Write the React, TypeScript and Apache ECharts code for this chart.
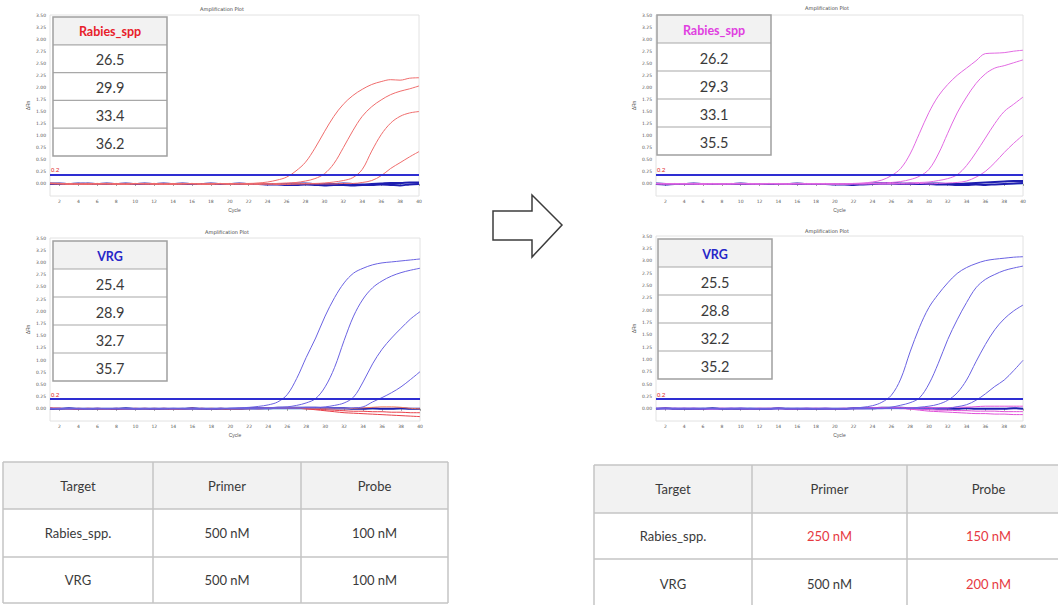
import { useEffect, useRef } from "react";
import * as echarts from "echarts";

// ---- data ----
const cycles = [
  "1", "2", "3", "4", "5", "6", "7", "8", "9", "10",
  "11", "12", "13", "14", "15", "16", "17", "18", "19", "20",
  "21", "22", "23", "24", "25", "26", "27", "28", "29", "30",
  "31", "32", "33", "34", "35", "36", "37", "38", "39", "40",
];

const threshold = 0.2;

// Rabies_spp channel, original concentrations
const tlRabies1 = [0.02, 0.01, 0.0, -0.01, 0.0, 0.01, 0.0, -0.01, 0.0, 0.01, 0.0, 0.01, 0.0, -0.01, 0.0, 0.01, 0.0, 0.0, 0.01, 0.0, 0.01, 0.01, 0.02, 0.04, 0.08, 0.14, 0.27, 0.45, 0.74, 1.08, 1.4, 1.65, 1.83, 1.96, 2.06, 2.12, 2.16, 2.15, 2.19, 2.2];
const tlRabies2 = [0.01, 0.0, 0.01, 0.0, -0.01, 0.0, 0.01, 0.0, 0.0, 0.01, 0.0, -0.01, 0.0, 0.01, 0.0, 0.0, -0.01, 0.0, 0.01, 0.0, 0.0, 0.0, 0.01, 0.0, 0.01, 0.02, 0.03, 0.06, 0.11, 0.21, 0.42, 0.75, 1.1, 1.4, 1.6, 1.74, 1.85, 1.92, 1.97, 2.03];
const tlRabies3 = [0.0, 0.01, 0.0, 0.0, 0.01, -0.01, 0.0, 0.01, 0.0, 0.0, 0.01, 0.0, -0.01, 0.0, 0.0, 0.01, 0.0, -0.01, 0.0, 0.01, 0.0, -0.01, 0.0, 0.0, -0.01, 0.0, 0.0, 0.01, 0.01, 0.02, 0.04, 0.07, 0.13, 0.3, 0.68, 1.02, 1.26, 1.4, 1.47, 1.5];
const tlRabies4 = [0.01, 0.0, -0.01, 0.0, 0.0, 0.01, 0.0, 0.0, -0.01, 0.0, 0.0, 0.01, 0.0, 0.0, 0.01, 0.0, 0.0, 0.01, 0.0, -0.01, 0.0, 0.0, -0.01, 0.0, 0.0, -0.01, 0.0, 0.0, 0.0, 0.0, 0.0, 0.01, 0.01, 0.03, 0.07, 0.17, 0.32, 0.44, 0.56, 0.67];
const tlFlat1 = [0.0, 0.01, 0.0, 0.0, 0.01, 0.0, 0.0, 0.0, 0.01, 0.0, 0.0, 0.0, 0.01, 0.0, 0.0, 0.0, 0.0, 0.01, 0.0, 0.0, 0.0, 0.0, 0.0, -0.01, -0.01, -0.02, -0.02, -0.01, -0.02, -0.03, -0.02, -0.02, -0.03, -0.02, -0.02, -0.01, -0.02, -0.03, -0.01, 0.0];
const tlFlat2 = [0.01, 0.0, 0.0, 0.01, 0.0, 0.0, 0.01, 0.0, 0.0, 0.0, 0.01, 0.0, 0.0, 0.0, 0.01, 0.0, 0.0, 0.0, 0.0, 0.0, 0.01, 0.0, 0.0, 0.0, 0.0, 0.0, 0.01, 0.01, 0.0, 0.0, 0.0, 0.01, 0.0, -0.01, 0.0, 0.01, 0.02, 0.02, 0.03, 0.03];

// VRG channel, original concentrations
const blVrg1 = [0.01, 0.0, 0.0, 0.01, 0.0, 0.0, 0.0, 0.01, 0.0, 0.0, 0.0, 0.01, 0.0, 0.0, 0.0, 0.0, 0.01, 0.0, 0.0, 0.01, 0.02, 0.03, 0.05, 0.08, 0.14, 0.29, 0.62, 1.05, 1.45, 1.9, 2.28, 2.58, 2.78, 2.88, 2.95, 2.99, 3.01, 3.03, 3.05, 3.07];
const blVrg2 = [0.0, 0.01, 0.0, 0.0, 0.0, 0.01, 0.0, 0.0, 0.0, 0.0, 0.01, 0.0, 0.0, 0.0, 0.01, 0.0, 0.0, 0.0, 0.01, 0.0, 0.01, 0.01, 0.02, 0.02, 0.03, 0.04, 0.07, 0.12, 0.21, 0.45, 0.85, 1.4, 1.9, 2.25, 2.48, 2.62, 2.72, 2.79, 2.84, 2.88];
const blVrg3 = [0.0, 0.0, 0.01, 0.0, 0.0, 0.0, 0.0, 0.01, 0.0, 0.0, 0.0, 0.0, 0.0, 0.01, 0.0, 0.0, 0.0, 0.0, 0.0, 0.01, 0.01, 0.01, 0.01, 0.01, 0.02, 0.02, 0.02, 0.03, 0.03, 0.04, 0.07, 0.12, 0.24, 0.55, 0.92, 1.22, 1.45, 1.65, 1.84, 1.99];
const blVrg4 = [0.01, 0.0, 0.0, 0.0, 0.0, 0.01, 0.0, 0.0, 0.0, 0.0, 0.0, 0.0, 0.01, 0.0, 0.0, 0.0, 0.0, 0.0, 0.01, 0.0, 0.0, 0.0, 0.0, 0.01, 0.01, 0.01, 0.01, 0.02, 0.02, 0.02, 0.01, 0.01, 0.02, 0.04, 0.14, 0.23, 0.33, 0.45, 0.6, 0.76];
const blFlat1 = [0.02, 0.01, 0.0, -0.01, 0.0, 0.01, 0.0, 0.0, -0.01, 0.0, 0.01, 0.0, 0.0, -0.01, 0.0, 0.01, 0.0, 0.0, 0.01, 0.0, 0.0, 0.01, 0.01, 0.02, 0.02, 0.02, 0.01, 0.0, -0.02, -0.04, -0.06, -0.08, -0.09, -0.1, -0.11, -0.12, -0.13, -0.14, -0.15, -0.16];
const blFlat2 = [0.0, 0.01, 0.0, 0.0, 0.01, 0.0, -0.01, 0.0, 0.0, 0.01, 0.0, 0.0, 0.01, 0.0, 0.0, 0.0, 0.01, 0.0, 0.0, 0.0, 0.01, 0.01, 0.0, 0.01, 0.02, 0.01, 0.01, 0.0, -0.01, -0.02, -0.03, -0.04, -0.05, -0.05, -0.06, -0.06, -0.07, -0.07, -0.08, -0.08];
const blFlat3 = [0.01, 0.0, 0.0, 0.01, 0.0, 0.0, 0.0, 0.01, 0.0, 0.0, 0.0, 0.01, 0.0, 0.0, 0.0, 0.0, 0.0, 0.01, 0.0, 0.0, 0.0, 0.0, 0.01, 0.01, 0.02, 0.02, 0.02, 0.02, 0.01, 0.01, 0.0, 0.0, 0.01, 0.02, 0.03, 0.04, 0.04, 0.03, 0.01, 0.0];
const blFlat4 = [0.0, 0.0, 0.01, 0.0, 0.0, 0.0, 0.0, 0.0, 0.01, 0.0, 0.0, 0.0, 0.0, 0.0, 0.0, 0.01, 0.0, 0.0, 0.0, 0.0, 0.0, 0.01, 0.01, 0.01, 0.02, 0.02, 0.02, 0.02, 0.02, 0.01, 0.01, 0.01, 0.0, 0.0, 0.01, 0.0, 0.0, 0.01, 0.0, 0.0];

// Rabies_spp channel, adjusted concentrations
const trRabies1 = [0.01, 0.0, 0.0, 0.01, 0.0, -0.01, 0.0, 0.0, 0.01, 0.0, 0.0, 0.0, 0.01, 0.0, 0.0, 0.01, 0.0, 0.0, 0.0, 0.0, 0.0, 0.01, 0.02, 0.04, 0.08, 0.17, 0.32, 0.62, 1.05, 1.48, 1.82, 2.06, 2.25, 2.4, 2.55, 2.7, 2.71, 2.72, 2.75, 2.77];
const trRabies2 = [0.0, 0.01, 0.0, 0.0, 0.0, 0.01, 0.0, 0.0, 0.0, 0.01, 0.0, 0.0, 0.0, 0.01, 0.0, 0.0, 0.01, 0.0, 0.0, 0.0, 0.0, 0.0, 0.01, 0.01, 0.02, 0.03, 0.05, 0.09, 0.16, 0.3, 0.62, 1.05, 1.47, 1.8, 2.08, 2.28, 2.4, 2.45, 2.51, 2.57];
const trRabies3 = [0.0, 0.0, 0.01, 0.0, 0.0, 0.0, 0.01, 0.0, 0.0, 0.0, 0.01, 0.0, 0.0, 0.0, 0.0, 0.01, 0.0, 0.0, 0.01, 0.0, 0.0, 0.0, 0.0, 0.01, 0.0, 0.01, 0.01, 0.02, 0.03, 0.04, 0.07, 0.11, 0.19, 0.38, 0.65, 0.95, 1.25, 1.5, 1.65, 1.8];
const trRabies4 = [0.01, 0.0, 0.0, 0.0, 0.01, 0.0, 0.0, 0.0, 0.0, 0.01, 0.0, 0.0, 0.01, 0.0, 0.0, 0.0, 0.0, 0.01, 0.0, 0.0, 0.0, 0.01, 0.0, 0.0, 0.0, 0.0, 0.0, 0.0, 0.01, 0.0, 0.01, 0.02, 0.03, 0.06, 0.14, 0.26, 0.44, 0.65, 0.84, 1.01];
const trFlat1 = [0.0, -0.01, 0.0, 0.0, 0.0, 0.0, 0.0, 0.0, 0.0, 0.0, 0.0, 0.0, 0.0, 0.0, 0.0, 0.0, 0.0, 0.0, 0.0, -0.01, -0.01, -0.02, -0.01, 0.0, 0.01, 0.01, 0.0, 0.01, 0.0, 0.0, -0.01, -0.01, -0.02, -0.02, -0.01, -0.02, -0.01, 0.0, 0.01, 0.02];
const trFlat2 = [0.01, 0.0, 0.0, 0.0, 0.01, 0.0, 0.0, 0.0, 0.0, 0.01, 0.0, 0.0, 0.0, 0.0, 0.0, 0.01, 0.0, 0.0, 0.0, 0.0, 0.0, 0.0, 0.0, 0.01, 0.01, 0.02, 0.01, 0.0, 0.0, 0.01, 0.01, 0.0, 0.0, 0.01, 0.02, 0.03, 0.04, 0.05, 0.06, 0.06];

// VRG channel, adjusted concentrations
const brVrg1 = [0.0, 0.01, 0.0, 0.0, 0.0, 0.01, 0.0, 0.0, 0.0, 0.0, 0.01, 0.0, 0.0, 0.0, 0.0, 0.01, 0.0, 0.0, 0.0, 0.0, 0.0, 0.01, 0.03, 0.06, 0.13, 0.27, 0.6, 1.15, 1.65, 2.05, 2.32, 2.55, 2.74, 2.86, 2.94, 3.0, 3.03, 3.05, 3.07, 3.08];
const brVrg2 = [0.01, 0.0, 0.0, 0.0, 0.01, 0.0, 0.0, 0.0, 0.0, 0.01, 0.0, 0.0, 0.0, 0.01, 0.0, 0.0, 0.0, 0.0, 0.01, 0.0, 0.0, 0.0, 0.01, 0.01, 0.01, 0.03, 0.07, 0.12, 0.22, 0.5, 0.92, 1.4, 1.8, 2.15, 2.45, 2.62, 2.72, 2.8, 2.85, 2.89];
const brVrg3 = [0.0, 0.0, 0.0, 0.01, 0.0, 0.0, 0.0, 0.0, 0.01, 0.0, 0.0, 0.0, 0.0, 0.0, 0.01, 0.0, 0.0, 0.0, 0.0, 0.0, 0.0, 0.0, 0.0, 0.0, 0.0, 0.01, 0.01, 0.01, 0.03, 0.05, 0.09, 0.17, 0.32, 0.58, 0.95, 1.3, 1.6, 1.82, 1.98, 2.1];
const brVrg4 = [0.0, 0.0, 0.01, 0.0, 0.0, 0.0, 0.0, 0.0, 0.0, 0.01, 0.0, 0.0, 0.0, 0.0, 0.0, 0.0, 0.01, 0.0, 0.0, 0.0, 0.0, 0.0, 0.0, 0.0, 0.0, 0.0, 0.0, 0.01, 0.0, 0.0, 0.01, 0.01, 0.04, 0.08, 0.17, 0.3, 0.45, 0.58, 0.77, 0.98];
const brFlat1 = [0.01, 0.0, 0.0, 0.01, 0.0, 0.0, -0.01, 0.0, 0.0, 0.01, 0.0, 0.0, 0.0, 0.01, 0.0, 0.0, 0.0, 0.01, 0.0, 0.0, 0.0, 0.01, 0.01, 0.02, 0.01, 0.01, 0.0, -0.01, -0.03, -0.05, -0.06, -0.07, -0.08, -0.09, -0.1, -0.1, -0.11, -0.11, -0.12, -0.12];
const brFlat2 = [0.0, 0.01, 0.0, 0.0, 0.01, 0.0, 0.0, 0.0, 0.01, 0.0, 0.0, 0.01, 0.0, 0.0, 0.0, 0.0, 0.01, 0.0, 0.0, 0.0, 0.01, 0.0, 0.0, 0.01, 0.01, 0.02, 0.01, 0.0, -0.01, -0.02, -0.03, -0.03, -0.04, -0.04, -0.05, -0.05, -0.05, -0.06, -0.06, -0.06];
const brFlat3 = [0.0, 0.0, 0.01, 0.0, 0.0, 0.0, 0.0, 0.01, 0.0, 0.0, 0.0, 0.0, 0.01, 0.0, 0.0, 0.0, 0.0, 0.0, 0.01, 0.0, 0.0, 0.0, 0.01, 0.01, 0.02, 0.02, 0.02, 0.02, 0.02, 0.02, 0.02, 0.02, 0.03, 0.03, 0.04, 0.05, 0.05, 0.05, 0.05, 0.05];
const brFlat4 = [0.0, 0.01, 0.0, 0.0, 0.0, 0.0, 0.01, 0.0, 0.0, 0.0, 0.0, 0.0, 0.0, 0.01, 0.0, 0.0, 0.0, 0.0, 0.0, 0.0, 0.0, 0.01, 0.01, 0.01, 0.02, 0.02, 0.02, 0.01, 0.01, 0.01, 0.0, 0.0, 0.0, 0.01, 0.0, 0.0, 0.0, 0.0, 0.01, 0.0];

// Ct values shown in the inset boxes
const rabiesCtBefore = ["26.5", "29.9", "33.4", "36.2"];
const vrgCtBefore = ["25.4", "28.9", "32.7", "35.7"];
const rabiesCtAfter = ["26.2", "29.3", "33.1", "35.5"];
const vrgCtAfter = ["25.5", "28.8", "32.2", "35.2"];

// Primer / probe concentration tables
const tableHeader = ["Target", "Primer", "Probe"];
const targets = ["Rabies_spp.", "VRG"];
const primerBefore = ["500 nM", "500 nM"];
const probeBefore = ["100 nM", "100 nM"];
const primerAfter = ["250 nM", "500 nM"];
const probeAfter = ["150 nM", "200 nM"];

// ---- styling ----
const RED = "#ef6d6d";
const MAGENTA = "#e26ae2";
const VIOLET = "#6a62e2";
const NAVY = "#1e1eb0";
const THRESH = "#2e2ed2";
const BASE_RED = "#e8404a";
const BASE_MAGENTA = "#e050d8";
const TEXT = "#3a3a3a";
const CHANGED = "#e6393f";
const FONT = "Lato, 'Open Sans', sans-serif";

type Line = { data: number[]; color: string; width: number };
type Panel = {
  grid: { left: number; top: number; width: number; height: number };
  title: [number, number];
  lines: Line[];
  box: { x: number; y: number; w: number; rowH: number; label: string; color: string; values: string[] };
};

const panels: Panel[] = [
  {
    grid: { left: 50, top: 15, width: 369, height: 181 },
    title: [222, 9],
    lines: [
      { data: tlFlat1, color: NAVY, width: 2 },
      { data: tlFlat2, color: NAVY, width: 2 },
      { data: tlRabies1, color: RED, width: 1 },
      { data: tlRabies2, color: RED, width: 1 },
      { data: tlRabies3, color: RED, width: 1 },
      { data: tlRabies4, color: RED, width: 1 },
    ],
    box: { x: 53, y: 17, w: 114, rowH: 27.8, label: "Rabies_spp", color: "#e8202a", values: rabiesCtBefore },
  },
  {
    grid: { left: 50, top: 238, width: 370, height: 183 },
    title: [227, 232],
    lines: [
      { data: blFlat4, color: NAVY, width: 2 },
      { data: blFlat1, color: BASE_RED, width: 1 },
      { data: blFlat2, color: BASE_RED, width: 1 },
      { data: blFlat3, color: "#f07a5a", width: 1 },
      { data: blVrg1, color: VIOLET, width: 1 },
      { data: blVrg2, color: VIOLET, width: 1 },
      { data: blVrg3, color: VIOLET, width: 1 },
      { data: blVrg4, color: VIOLET, width: 1 },
    ],
    box: { x: 53, y: 241, w: 114, rowH: 28, label: "VRG", color: "#2626c8", values: vrgCtBefore },
  },
  {
    grid: { left: 656, top: 15, width: 367, height: 181 },
    title: [827, 8],
    lines: [
      { data: trFlat1, color: NAVY, width: 2 },
      { data: trFlat2, color: NAVY, width: 2 },
      { data: trRabies1, color: MAGENTA, width: 1 },
      { data: trRabies2, color: MAGENTA, width: 1 },
      { data: trRabies3, color: MAGENTA, width: 1 },
      { data: trRabies4, color: MAGENTA, width: 1 },
    ],
    box: { x: 657, y: 15, w: 114, rowH: 28, label: "Rabies_spp", color: "#e040e0", values: rabiesCtAfter },
  },
  {
    grid: { left: 656, top: 236, width: 367, height: 185 },
    title: [827, 231],
    lines: [
      { data: brFlat4, color: NAVY, width: 2 },
      { data: brFlat1, color: BASE_MAGENTA, width: 1 },
      { data: brFlat2, color: BASE_MAGENTA, width: 1 },
      { data: brFlat3, color: BASE_MAGENTA, width: 1 },
      { data: brVrg1, color: VIOLET, width: 1 },
      { data: brVrg2, color: VIOLET, width: 1 },
      { data: brVrg3, color: VIOLET, width: 1 },
      { data: brVrg4, color: VIOLET, width: 1 },
    ],
    box: { x: 658, y: 239, w: 114, rowH: 28, label: "VRG", color: "#2626c8", values: vrgCtAfter },
  },
];

const evenCycle = (_i: number, v: string) => Number(v) % 2 === 0;

function insetBox(b: Panel["box"]): any[] {
  const els: any[] = [];
  const h = b.rowH * 5;
  els.push({ type: "rect", z: 100, shape: { x: b.x, y: b.y, width: b.w, height: h }, style: { fill: "#ffffff", stroke: "none" } });
  els.push({ type: "rect", z: 101, shape: { x: b.x, y: b.y, width: b.w, height: b.rowH }, style: { fill: "#f2f2f2", stroke: "none" } });
  for (let r = 1; r < 5; r++) {
    els.push({ type: "line", z: 102, shape: { x1: b.x, y1: b.y + r * b.rowH, x2: b.x + b.w, y2: b.y + r * b.rowH }, style: { stroke: "#a8a8a8", lineWidth: 1.2 } });
  }
  els.push({ type: "rect", z: 103, shape: { x: b.x, y: b.y, width: b.w, height: h }, style: { fill: "none", stroke: "#a0a0a0", lineWidth: 1.5 } });
  els.push({
    type: "text", z: 104,
    style: { text: b.label, x: b.x + b.w / 2, y: b.y + b.rowH / 2 + 1, fill: b.color, fontFamily: FONT, fontSize: 12.5, fontWeight: "bold", textAlign: "center", textVerticalAlign: "middle" },
  });
  b.values.forEach((v, i) => {
    els.push({
      type: "text", z: 104,
      style: { text: v, x: b.x + b.w / 2, y: b.y + (i + 1.5) * b.rowH + 1, fill: TEXT, fontFamily: FONT, fontSize: 14.5, textAlign: "center", textVerticalAlign: "middle" },
    });
  });
  return els;
}

function concTable(colX: number[], rowY: number[], primer: string[], probe: string[], refPrimer: string[], refProbe: string[]): any[] {
  const els: any[] = [];
  const x0 = colX[0];
  const x1 = colX[colX.length - 1];
  els.push({ type: "rect", z: 10, shape: { x: x0, y: rowY[0], width: x1 - x0, height: rowY[1] - rowY[0] }, style: { fill: "#f2f2f2", stroke: "none" } });
  rowY.forEach((y) => {
    els.push({ type: "line", z: 11, shape: { x1: x0, y1: y, x2: x1, y2: y }, style: { stroke: "#c4c4c4", lineWidth: 1.5 } });
  });
  colX.forEach((x) => {
    els.push({ type: "line", z: 11, shape: { x1: x, y1: rowY[0], x2: x, y2: rowY[rowY.length - 1] }, style: { stroke: "#c4c4c4", lineWidth: 1.5 } });
  });
  const cx = (c: number) => (colX[c] + colX[c + 1]) / 2;
  const cy = (r: number) => (rowY[r] + rowY[r + 1]) / 2;
  const cell = (text: string, c: number, r: number, color: string) => ({
    type: "text", z: 12,
    style: { text, x: cx(c), y: cy(r), fill: color, fontFamily: FONT, fontSize: 13, textAlign: "center", textVerticalAlign: "middle" },
  });
  tableHeader.forEach((h, c) => els.push(cell(h, c, 0, TEXT)));
  targets.forEach((t, r) => {
    els.push(cell(t, 0, r + 1, TEXT));
    els.push(cell(primer[r], 1, r + 1, primer[r] === refPrimer[r] ? TEXT : CHANGED));
    els.push(cell(probe[r], 2, r + 1, probe[r] === refProbe[r] ? TEXT : CHANGED));
  });
  return els;
}

export default function App() {
  const ref = useRef<HTMLDivElement>(null);

  useEffect(() => {
    if (!ref.current) return;
    const chart = echarts.init(ref.current, undefined, { renderer: "svg" });

    const axisText = { fontSize: 4.5, color: "#555", fontFamily: "'DejaVu Sans', sans-serif" };

    const grid = panels.map((p) => ({
      ...p.grid,
      show: true,
      borderColor: "#e2e2e2",
      borderWidth: 1,
      backgroundColor: "#ffffff",
    }));

    const xAxis = panels.map((_p, i) => ({
      type: "category",
      gridIndex: i,
      data: cycles,
      boundaryGap: false,
      name: "Cycle",
      nameLocation: "middle",
      nameGap: 11,
      nameTextStyle: { fontSize: 5, color: "#555" },
      axisLine: { lineStyle: { color: "#c2d8ee", width: 1 } },
      axisTick: { interval: evenCycle, length: 2, lineStyle: { color: "#999" } },
      axisLabel: { ...axisText, interval: evenCycle, margin: 3 },
      splitLine: { show: false },
    }));

    const yAxis = panels.map((_p, i) => ({
      type: "value",
      gridIndex: i,
      min: -0.25,
      max: 3.5,
      interval: 0.25,
      name: "ΔRn",
      nameLocation: "middle",
      nameGap: 20,
      nameRotate: 90,
      nameTextStyle: { fontSize: 5, color: "#555" },
      axisLine: { show: false },
      axisTick: { show: false },
      axisLabel: { ...axisText, margin: 4, formatter: (v: number) => (v < 0 ? "" : v.toFixed(2)) },
      splitLine: { show: false },
    }));

    const series: any[] = [];
    panels.forEach((p, i) => {
      p.lines.forEach((l, k) => {
        series.push({
          type: "line",
          xAxisIndex: i,
          yAxisIndex: i,
          data: l.data,
          symbol: "none",
          smooth: 0.35,
          silent: true,
          lineStyle: { color: l.color, width: l.width },
          z: l.width > 1 ? 2 : 3,
          markLine:
            k === 0
              ? {
                  symbol: "none",
                  silent: true,
                  data: [{ yAxis: threshold }],
                  lineStyle: { color: THRESH, width: 2, type: "solid" },
                  label: {
                    show: true,
                    position: "insideStartTop",
                    formatter: String(threshold),
                    color: "#e02020",
                    fontSize: 6,
                    distance: 1,
                  },
                }
              : undefined,
        });
      });
    });

    const graphic: any[] = [];
    panels.forEach((p) => {
      graphic.push({
        type: "text",
        z: 100,
        style: { text: "Amplification Plot", x: p.title[0], y: p.title[1], fill: "#444", fontSize: 5, fontFamily: "'DejaVu Sans', sans-serif", textAlign: "center", textVerticalAlign: "middle" },
      });
      graphic.push(...insetBox(p.box));
    });

    graphic.push(...concTable([3, 153, 301, 448], [462, 509, 557, 603], primerBefore, probeBefore, primerBefore, probeBefore));
    graphic.push(...concTable([594, 752, 907, 1070], [465, 513, 559, 608], primerAfter, probeAfter, primerBefore, probeBefore));

    // right-pointing block arrow between the two columns
    graphic.push({
      type: "polygon",
      z: 100,
      shape: { points: [[493, 211], [532, 211], [532, 195], [562, 225], [532, 257], [532, 240], [493, 240]] },
      style: { fill: "#ffffff", stroke: "#3c3c3c", lineWidth: 1.5 },
    });

    chart.setOption({
      animation: false,
      backgroundColor: "#ffffff",
      grid,
      xAxis,
      yAxis,
      series,
      graphic,
    });

    return () => chart.dispose();
  }, []);

  return (
    <div
      ref={ref}
      style={{ position: "fixed", left: 0, top: 0, width: 1058, height: 605, background: "#ffffff" }}
    />
  );
}
